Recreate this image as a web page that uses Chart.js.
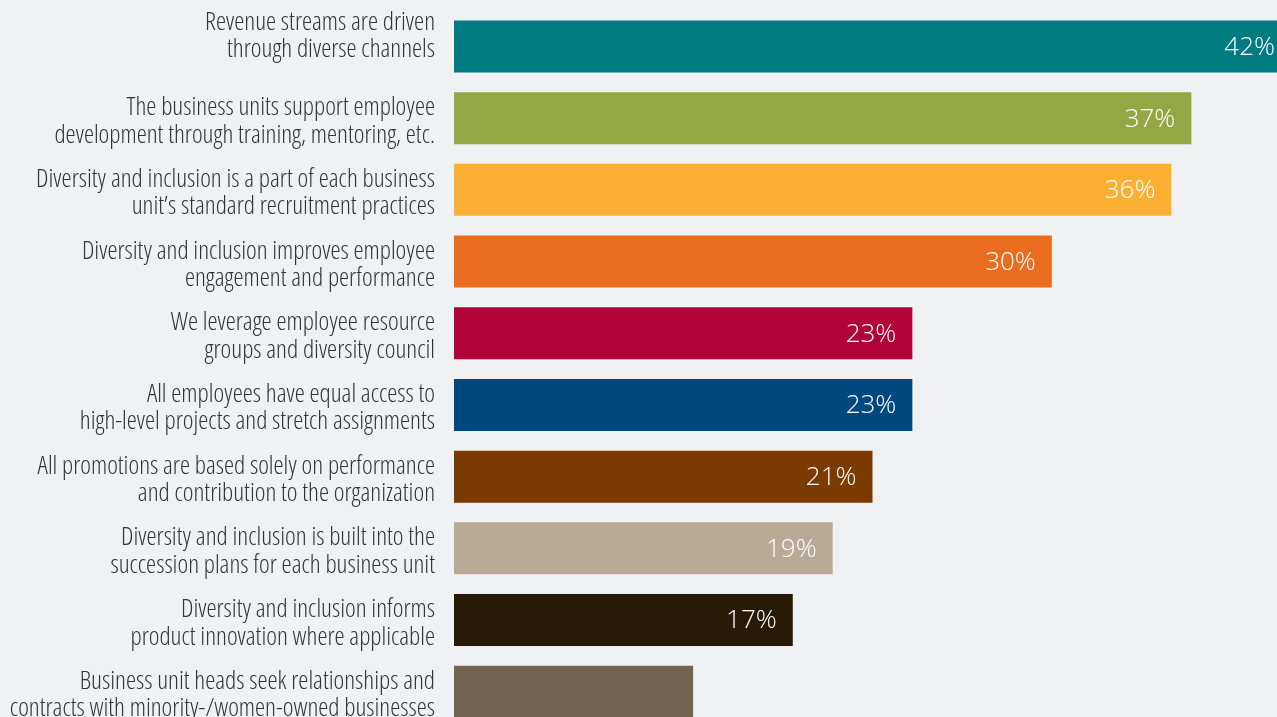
<!DOCTYPE html>
<html>
<head>
<meta charset="utf-8">
<script src="https://cdn.jsdelivr.net/npm/chart.js@4/dist/chart.umd.min.js"></script>
<style>
  html, body { margin: 0; padding: 0; background: #f0f1f3; overflow: hidden; }
  #wrap { position: relative; width: 1300px; height: 740px; }
</style>
</head>
<body>
<div id="wrap"><canvas id="chart"></canvas></div>
<script>
// Survey statements (two-line category labels)
const categories = [
  ['Revenue streams are driven', 'through diverse channels'],
  ['The business units support employee', 'development through training, mentoring, etc.'],
  ['Diversity and inclusion is a part of each business', 'unit\u2019s standard recruitment practices'],
  ['Diversity and inclusion improves employee', 'engagement and performance'],
  ['We leverage employee resource', 'groups and diversity council'],
  ['All employees have equal access to', 'high-level projects and stretch assignments'],
  ['All promotions are based solely on performance', 'and contribution to the organization'],
  ['Diversity and inclusion is built into the', 'succession plans for each business unit'],
  ['Diversity and inclusion informs', 'product innovation where applicable'],
  ['Business unit heads seek relationships and', 'contracts with minority-/women-owned businesses']
];

// Share of respondents, percent
const values = [42, 37, 36, 30, 23, 23, 21, 19, 17, 12];

// Whether the percentage is printed inside the bar
const showValue = [true, true, true, true, true, true, true, true, true, false];

const barColors = [
  '#007b82', '#95a645', '#fbb034', '#e96c1f', '#b10239',
  '#004880', '#7a3a00', '#b8ab96', '#271b08', '#6f6550'
];

const valueLabelPlugin = {
  id: 'valueLabels',
  afterDatasetsDraw(chart) {
    const ctx = chart.ctx;
    const meta = chart.getDatasetMeta(0);
    ctx.save();
    ctx.font = '300 26px "Open Sans", Roboto, Arial, sans-serif';
    ctx.fillStyle = '#ffffff';
    ctx.textAlign = 'right';
    ctx.textBaseline = 'middle';
    meta.data.forEach((bar, i) => {
      if (!showValue[i]) return;
      ctx.fillText(values[i] + '%', bar.x - 16, bar.y + 1);
    });
    ctx.restore();
  }
};

new Chart(document.getElementById('chart'), {
  type: 'bar',
  data: {
    labels: categories,
    datasets: [{
      data: values,
      backgroundColor: barColors,
      borderWidth: 0,
      barPercentage: 0.725,
      categoryPercentage: 1.0
    }]
  },
  options: {
    indexAxis: 'y',
    responsive: true,
    maintainAspectRatio: false,
    animation: false,
    layout: { padding: { left: 0, right: 9, top: 10.6, bottom: 12.4 } },
    plugins: {
      legend: { display: false },
      tooltip: { enabled: false }
    },
    scales: {
      x: {
        display: false,
        min: 0,
        max: 42
      },
      y: {
        grid: { display: false },
        border: { display: false },
        afterFit(scale) {
          scale.width = 454;
          scale.paddingTop = 0;
          scale.paddingBottom = 0;
        },
        ticks: {
          autoSkip: false,
          padding: 11,
          labelOffset: 3.5,
          color: '#333333',
          font: {
            family: '"Open Sans", "Roboto Condensed", sans-serif',
            weight: '350 condensed',
            size: 25.5,
            lineHeight: 1.08
          },
          // the top statement is set half a line higher than the others
          callback(value, index) {
            const lines = categories[index];
            return index === 0 ? lines.concat(['']) : lines;
          }
        }
      }
    }
  },
  plugins: [valueLabelPlugin]
});
</script>
</body>
</html>
